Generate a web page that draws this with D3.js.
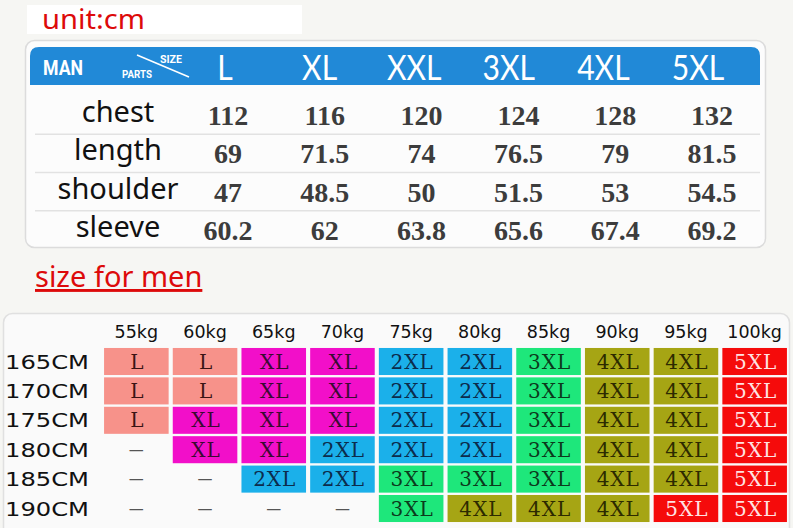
<!DOCTYPE html>
<html>
<head>
<meta charset="utf-8">
<script src="https://cdn.jsdelivr.net/npm/d3@7/dist/d3.min.js"></script>
<style>
  html, body { margin: 0; padding: 0; background: #f6f6f3; }
  svg { display: block; }
</style>
</head>
<body>
<svg id="chart" width="793" height="528"></svg>
<script>
// ---------- DATA ----------
const sizes = ["L", "XL", "XXL", "3XL", "4XL", "5XL"];
const parts = ["chest", "length", "shoulder", "sleeve"];
const chestCm = [112, 116, 120, 124, 128, 132];
const lengthCm = [69, 71.5, 74, 76.5, 79, 81.5];
const shoulderCm = [47, 48.5, 50, 51.5, 53, 54.5];
const sleeveCm = [60.2, 62, 63.8, 65.6, 67.4, 69.2];

const weights = ["55kg", "60kg", "65kg", "70kg", "75kg", "80kg", "85kg", "90kg", "95kg", "100kg"];
const heights = ["165CM", "170CM", "175CM", "180CM", "185CM", "190CM"];
const row165 = ["L", "L", "XL", "XL", "2XL", "2XL", "3XL", "4XL", "4XL", "5XL"];
const row170 = ["L", "L", "XL", "XL", "2XL", "2XL", "3XL", "4XL", "4XL", "5XL"];
const row175 = ["L", "XL", "XL", "XL", "2XL", "2XL", "3XL", "4XL", "4XL", "5XL"];
const row180 = ["", "XL", "XL", "2XL", "2XL", "2XL", "3XL", "4XL", "4XL", "5XL"];
const row185 = ["", "", "2XL", "2XL", "3XL", "3XL", "3XL", "4XL", "4XL", "5XL"];
const row190 = ["", "", "", "", "3XL", "4XL", "4XL", "4XL", "5XL", "5XL"];

// ---------- STYLE ----------
const fillColor = { "L": "#f7928a", "XL": "#f20fc9", "2XL": "#1bb0ea", "3XL": "#1ee77b", "4XL": "#a6a514", "5XL": "#f50b0b" };
const textColor = { "L": "#3a1414", "XL": "#3a0a32", "2XL": "#0c2c4c", "3XL": "#0c3a1c", "4XL": "#2c2a00", "5XL": "#ffe2e2" };
const red = "#dd0a0a";

const svg = d3.select("#chart");

// background
svg.append("rect").attr("width", 793).attr("height", 528).attr("fill", "#f6f6f3");

// ---------- unit:cm ----------
svg.append("rect").attr("x", 27).attr("y", 5).attr("width", 275).attr("height", 29).attr("fill", "#ffffff");
svg.append("text").attr("x", 42).attr("y", 29)
  .attr("font-family", "Noto Sans").attr("font-size", 27).attr("fill", red)
  .attr("textLength", 103).attr("lengthAdjust", "spacingAndGlyphs")
  .text("unit:cm");

// ---------- TOP TABLE ----------
const topG = svg.append("g");
topG.append("rect").attr("x", 25.5).attr("y", 40.5).attr("width", 740).attr("height", 207)
  .attr("rx", 9).attr("fill", "#fcfcfc").attr("stroke", "#dcdcdc").attr("stroke-width", 1.5);

// blue header with rounded top corners
const hx0 = 30, hx1 = 760, hy0 = 47, hy1 = 85, r = 9;
topG.append("path")
  .attr("d", `M${hx0},${hy1} V${hy0 + r} Q${hx0},${hy0} ${hx0 + r},${hy0} H${hx1 - r} Q${hx1},${hy0} ${hx1},${hy0 + r} V${hy1} Z`)
  .attr("fill", "#2189d7");

topG.append("text").attr("x", 43).attr("y", 75)
  .attr("font-family", "Roboto").attr("font-weight", "bold").attr("font-size", 21)
  .attr("fill", "#ffffff").attr("textLength", 40).attr("lengthAdjust", "spacingAndGlyphs")
  .text("MAN");
topG.append("line").attr("x1", 137).attr("y1", 55).attr("x2", 189).attr("y2", 77)
  .attr("stroke", "#ffffff").attr("stroke-width", 1.5);
topG.append("text").attr("x", 160).attr("y", 63)
  .attr("font-family", "Roboto").attr("font-weight", "bold").attr("font-size", 11)
  .attr("fill", "#ffffff").attr("textLength", 22).attr("lengthAdjust", "spacingAndGlyphs")
  .text("SIZE");
topG.append("text").attr("x", 122).attr("y", 78)
  .attr("font-family", "Roboto").attr("font-weight", "bold").attr("font-size", 10)
  .attr("fill", "#ffffff").attr("textLength", 30).attr("lengthAdjust", "spacingAndGlyphs")
  .text("PARTS");

const xSize = d3.scalePoint().domain(sizes).range([225, 698]);
const xVal = d3.scalePoint().domain(d3.range(sizes.length)).range([228, 712]);
const yPart = d3.scalePoint().domain(parts).range([123, 238]);

topG.selectAll("text.size").data(sizes).join("text")
  .attr("class", "size")
  .attr("x", d => xSize(d)).attr("y", 80)
  .attr("text-anchor", "middle")
  .attr("font-family", "Lato").attr("font-size", 35).attr("fill", "#ffffff")
  .text(d => d)
  .each(function () {
    const w = this.getComputedTextLength();
    d3.select(this).attr("textLength", w * 0.86).attr("lengthAdjust", "spacingAndGlyphs");
  });

// separators between rows
const step = yPart.step();
topG.selectAll("line.sep").data(parts.slice(1)).join("line")
  .attr("class", "sep")
  .attr("x1", 35).attr("x2", 760)
  .attr("y1", d => yPart(d) - step / 2 - 8).attr("y2", d => yPart(d) - step / 2 - 8)
  .attr("stroke", "#e2e2e2").attr("stroke-width", 1.5);

topG.selectAll("text.part").data(parts).join("text")
  .attr("class", "part")
  .attr("x", 118).attr("y", d => yPart(d) - 1)
  .attr("text-anchor", "middle")
  .attr("font-family", "Noto Sans").attr("font-size", 29).attr("fill", "#111111")
  .text(d => d);

const values = { chest: chestCm, length: lengthCm, shoulder: shoulderCm, sleeve: sleeveCm };
parts.forEach(p => {
  topG.selectAll("text.v-" + p).data(values[p]).join("text")
    .attr("class", "v-" + p)
    .attr("x", (d, i) => xVal(i)).attr("y", yPart(p) + 2)
    .attr("text-anchor", "middle")
    .attr("font-family", "Liberation Serif").attr("font-weight", "bold").attr("font-size", 28)
    .attr("fill", "#3c3c3c")
    .text(d => d);
});

// ---------- size for men ----------
svg.append("text").attr("x", 35).attr("y", 287)
  .attr("font-family", "Noto Sans").attr("font-size", 29).attr("fill", red)
  .attr("text-decoration", "underline")
  .text("size for men");

// ---------- BOTTOM TABLE ----------
const bot = svg.append("g");
bot.append("rect").attr("x", 3.5).attr("y", 313.5).attr("width", 786).attr("height", 240)
  .attr("rx", 9).attr("fill", "#fafafa").attr("stroke", "#e0e0e0").attr("stroke-width", 1.5);

const xW = d3.scaleBand().domain(weights).range([102, 789]).paddingInner(0.06).paddingOuter(0.03);
const yH = d3.scaleBand().domain(heights).range([346.8, 523.2]).paddingInner(0.08).paddingOuter(0.04);

bot.selectAll("text.w").data(weights).join("text")
  .attr("class", "w")
  .attr("x", d => xW(d) + xW.bandwidth() / 2).attr("y", 338)
  .attr("text-anchor", "middle")
  .attr("font-family", "DejaVu Sans").attr("font-size", 17.5).attr("fill", "#111111")
  .text(d => d);

bot.selectAll("text.h").data(heights).join("text")
  .attr("class", "h")
  .attr("x", 5).attr("y", d => yH(d) + yH.bandwidth() / 2 + 7)
  .attr("font-family", "DejaVu Sans").attr("font-size", 19).attr("fill", "#111111")
  .attr("textLength", 84).attr("lengthAdjust", "spacingAndGlyphs")
  .text(d => d);

const grid = [row165, row170, row175, row180, row185, row190];
const cells = [];
grid.forEach((row, ri) => row.forEach((s, ci) => cells.push({ h: heights[ri], w: weights[ci], s })));

const filled = cells.filter(c => c.s !== "");
const empty = cells.filter(c => c.s === "");

bot.selectAll("rect.cell").data(filled).join("rect")
  .attr("class", "cell")
  .attr("x", d => xW(d.w)).attr("y", d => yH(d.h))
  .attr("width", xW.bandwidth()).attr("height", yH.bandwidth())
  .attr("fill", d => fillColor[d.s]);

bot.selectAll("text.cell").data(filled).join("text")
  .attr("class", "cell")
  .attr("x", d => xW(d.w) + xW.bandwidth() / 2 + 1)
  .attr("y", d => yH(d.h) + yH.bandwidth() / 2 + 7)
  .attr("text-anchor", "middle")
  .attr("font-family", "DejaVu Serif").attr("font-size", 20)
  .attr("letter-spacing", 1)
  .attr("fill", d => textColor[d.s])
  .text(d => d.s);

bot.selectAll("text.dash").data(empty).join("text")
  .attr("class", "dash")
  .attr("x", d => xW(d.w) + xW.bandwidth() / 2)
  .attr("y", d => yH(d.h) + yH.bandwidth() / 2 + 5)
  .attr("text-anchor", "middle")
  .attr("font-family", "DejaVu Sans").attr("font-size", 15).attr("fill", "#555555")
  .text("—");
</script>
</body>
</html>
